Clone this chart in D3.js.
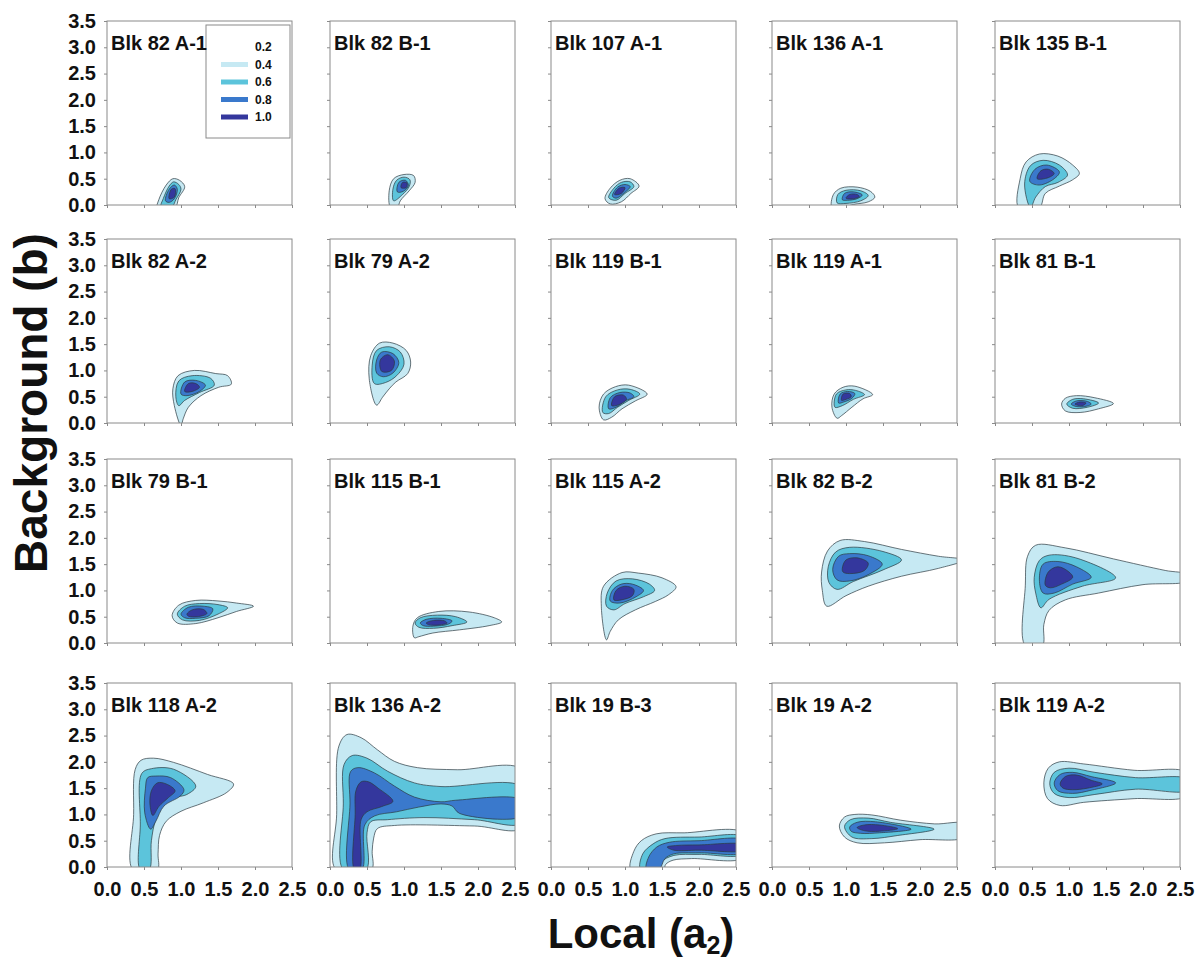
<!DOCTYPE html>
<html>
<head>
<meta charset="utf-8">
<script src="https://cdn.jsdelivr.net/npm/d3@7"></script>
<style>
  html, body { margin: 0; padding: 0; background: #fff; }
  svg { display: block; font-family: Arial, "Liberation Sans", sans-serif; }
</style>
</head>
<body>
<svg id="chart" width="1195" height="962"></svg>
<script>
// ---------------- data ----------------
const panelTitles = [
  "Blk 82 A-1", "Blk 82 B-1", "Blk 107 A-1", "Blk 136 A-1", "Blk 135 B-1",
  "Blk 82 A-2", "Blk 79 A-2", "Blk 119 B-1", "Blk 119 A-1", "Blk 81 B-1",
  "Blk 79 B-1", "Blk 115 B-1", "Blk 115 A-2", "Blk 82 B-2", "Blk 81 B-2",
  "Blk 118 A-2", "Blk 136 A-2", "Blk 19 B-3", "Blk 19 A-2", "Blk 119 A-2"
];
const contourLevels = [0.2, 0.4, 0.6, 0.8];
const legendLabels = ["0.2", "0.4", "0.6", "0.8", "1.0"];
const xTickValues = [0, 0.5, 1.0, 1.5, 2.0, 2.5];
const yTickValues = [0, 0.5, 1.0, 1.5, 2.0, 2.5, 3.0, 3.5];
const xDomain = [0, 2.5];
const yDomain = [0, 3.5];

// contour outlines: per panel, one closed outline per level,
// points are [local a2, background b]
const contourOutlines = [
  // Blk 82 A-1
  [
    [[0.68,-0.05],[0.7,0.1],[0.8,0.38],[0.89,0.5],[0.98,0.47],[1.05,0.35],[0.97,0.14],[0.92,-0.05]],
    [[0.73,-0.03],[0.76,0.12],[0.84,0.36],[0.9,0.44],[0.97,0.39],[1.0,0.3],[0.93,0.1],[0.88,-0.03]],
    [[0.79,0.08],[0.84,0.3],[0.91,0.38],[0.95,0.3],[0.91,0.12],[0.84,0.05]],
    [[0.84,0.12],[0.87,0.3],[0.92,0.31],[0.91,0.15]]
  ],
  // Blk 82 B-1
  [
    [[0.82,-0.05],[0.8,0.27],[0.86,0.5],[1.0,0.58],[1.13,0.56],[1.15,0.43],[1.07,0.27],[0.95,0.08],[0.91,-0.05]],
    [[0.86,0.08],[0.85,0.3],[0.9,0.47],[1.0,0.53],[1.08,0.48],[1.07,0.35],[0.98,0.2]],
    [[0.91,0.25],[0.93,0.43],[1.02,0.47],[1.06,0.37],[0.99,0.26]],
    [[0.96,0.33],[0.98,0.43],[1.04,0.42],[1.03,0.33]]
  ],
  // Blk 107 A-1
  [
    [[0.73,0.12],[0.8,0.32],[0.93,0.47],[1.07,0.5],[1.19,0.36],[1.08,0.22],[0.95,0.06],[0.8,0.02]],
    [[0.78,0.14],[0.85,0.32],[0.95,0.43],[1.07,0.44],[1.12,0.35],[1.0,0.22],[0.88,0.09]],
    [[0.83,0.17],[0.9,0.34],[1.0,0.39],[1.07,0.35],[0.98,0.22],[0.88,0.13]],
    [[0.86,0.2],[0.92,0.32],[1.0,0.33],[0.95,0.22]]
  ],
  // Blk 136 A-1
  [
    [[0.81,-0.05],[0.83,0.2],[0.93,0.32],[1.15,0.34],[1.33,0.26],[1.39,0.15],[1.3,0.06],[1.1,0.01],[0.95,-0.05]],
    [[0.88,0.04],[0.89,0.2],[1.0,0.28],[1.2,0.27],[1.3,0.18],[1.2,0.08],[1.0,0.03]],
    [[0.95,0.1],[0.98,0.22],[1.1,0.25],[1.22,0.19],[1.15,0.12],[1.02,0.09]],
    [[1.0,0.13],[1.05,0.2],[1.15,0.2],[1.18,0.16],[1.1,0.12]]
  ],
  // Blk 135 B-1
  [
    [[0.32,-0.05],[0.34,0.5],[0.42,0.82],[0.6,0.97],[0.85,0.93],[1.05,0.76],[1.14,0.6],[1.05,0.48],[0.87,0.36],[0.68,0.22],[0.6,-0.05]],
    [[0.48,-0.05],[0.4,0.4],[0.48,0.75],[0.65,0.85],[0.87,0.76],[0.98,0.57],[0.85,0.43],[0.68,0.35],[0.55,0.15]],
    [[0.47,0.45],[0.54,0.68],[0.7,0.76],[0.87,0.63],[0.8,0.5],[0.6,0.38]],
    [[0.57,0.5],[0.62,0.65],[0.72,0.68],[0.8,0.6],[0.72,0.52]]
  ],
  // Blk 82 A-2
  [
    [[1.0,-0.05],[0.91,0.33],[0.89,0.65],[0.96,0.9],[1.18,1.0],[1.47,0.94],[1.63,0.9],[1.68,0.74],[1.51,0.68],[1.27,0.52],[1.1,0.3],[1.03,0.08]],
    [[0.97,0.33],[0.93,0.5],[0.97,0.8],[1.15,0.9],[1.4,0.85],[1.45,0.72],[1.25,0.58],[1.05,0.43]],
    [[1.0,0.55],[1.05,0.78],[1.2,0.81],[1.33,0.72],[1.25,0.6],[1.08,0.52]],
    [[1.05,0.6],[1.1,0.75],[1.2,0.75],[1.25,0.68],[1.15,0.6]]
  ],
  // Blk 79 A-2
  [
    [[0.63,0.34],[0.53,0.84],[0.55,1.28],[0.67,1.52],[0.85,1.52],[1.03,1.38],[1.09,1.16],[1.05,0.94],[0.89,0.78],[0.8,0.65],[0.71,0.49]],
    [[0.6,0.75],[0.57,1.1],[0.63,1.38],[0.8,1.45],[0.95,1.35],[1.0,1.12],[0.9,0.9],[0.75,0.77]],
    [[0.63,0.95],[0.63,1.2],[0.7,1.35],[0.85,1.32],[0.93,1.15],[0.85,0.95],[0.72,0.88]],
    [[0.7,0.98],[0.68,1.2],[0.78,1.3],[0.87,1.18],[0.83,1.0]]
  ],
  // Blk 119 B-1
  [
    [[0.71,0.06],[0.65,0.3],[0.71,0.55],[0.87,0.69],[1.05,0.72],[1.3,0.55],[1.14,0.42],[0.96,0.27],[0.82,0.11]],
    [[0.7,0.2],[0.74,0.5],[0.9,0.63],[1.07,0.64],[1.2,0.55],[1.05,0.43],[0.9,0.3],[0.78,0.18]],
    [[0.78,0.27],[0.8,0.48],[0.93,0.58],[1.07,0.57],[1.12,0.5],[1.0,0.42],[0.88,0.3]],
    [[0.82,0.33],[0.86,0.5],[0.98,0.53],[1.02,0.45],[0.92,0.35]]
  ],
  // Blk 119 A-1
  [
    [[0.88,0.09],[0.81,0.3],[0.84,0.55],[0.96,0.68],[1.12,0.7],[1.36,0.54],[1.23,0.46],[1.08,0.3],[0.94,0.14]],
    [[0.85,0.3],[0.87,0.55],[1.0,0.63],[1.13,0.62],[1.25,0.54],[1.1,0.45],[0.95,0.33]],
    [[0.9,0.38],[0.92,0.55],[1.02,0.6],[1.12,0.56],[1.08,0.47],[0.97,0.4]],
    [[0.94,0.43],[0.96,0.55],[1.05,0.56],[1.07,0.5],[1.0,0.45]]
  ],
  // Blk 81 B-1
  [
    [[0.9,0.36],[0.95,0.47],[1.1,0.52],[1.35,0.48],[1.6,0.37],[1.4,0.27],[1.15,0.2],[0.95,0.23]],
    [[0.97,0.36],[1.05,0.45],[1.2,0.46],[1.4,0.38],[1.25,0.3],[1.05,0.28]],
    [[1.03,0.36],[1.1,0.42],[1.25,0.41],[1.3,0.36],[1.2,0.31],[1.08,0.32]],
    [[1.08,0.36],[1.15,0.4],[1.23,0.38],[1.18,0.33]]
  ],
  // Blk 79 B-1
  [
    [[0.88,0.52],[0.97,0.72],[1.2,0.81],[1.5,0.8],[1.75,0.76],[1.98,0.7],[1.75,0.6],[1.5,0.48],[1.2,0.37],[0.95,0.38]],
    [[0.95,0.55],[1.05,0.7],[1.25,0.75],[1.5,0.73],[1.63,0.67],[1.5,0.55],[1.25,0.43],[1.02,0.44]],
    [[1.0,0.55],[1.1,0.68],[1.3,0.7],[1.43,0.65],[1.38,0.52],[1.2,0.47],[1.05,0.48]],
    [[1.08,0.55],[1.15,0.63],[1.3,0.64],[1.35,0.56],[1.22,0.5],[1.1,0.51]]
  ],
  // Blk 115 B-1
  [
    [[1.14,0.1],[1.12,0.32],[1.18,0.48],[1.47,0.6],[1.88,0.59],[2.22,0.48],[2.32,0.4],[2.15,0.33],[1.75,0.25],[1.39,0.19],[1.2,0.12]],
    [[1.15,0.38],[1.22,0.48],[1.45,0.53],[1.7,0.5],[1.85,0.4],[1.65,0.33],[1.4,0.28],[1.2,0.3]],
    [[1.22,0.38],[1.3,0.45],[1.5,0.47],[1.65,0.42],[1.6,0.36],[1.4,0.32],[1.26,0.33]],
    [[1.3,0.38],[1.4,0.43],[1.55,0.42],[1.58,0.38],[1.45,0.34],[1.33,0.35]]
  ],
  // Blk 115 A-2
  [
    [[0.75,0.06],[0.68,0.7],[0.71,1.08],[0.96,1.34],[1.18,1.33],[1.5,1.24],[1.69,1.07],[1.59,0.92],[1.41,0.79],[1.14,0.63],[0.91,0.44],[0.8,0.22]],
    [[0.75,0.7],[0.76,0.95],[0.88,1.18],[1.1,1.22],[1.33,1.12],[1.4,1.0],[1.25,0.88],[1.0,0.75],[0.85,0.63]],
    [[0.8,0.8],[0.83,1.0],[0.95,1.12],[1.1,1.12],[1.25,1.0],[1.15,0.88],[0.93,0.76]],
    [[0.85,0.82],[0.88,1.0],[1.0,1.08],[1.12,1.02],[1.1,0.9],[0.95,0.82]]
  ],
  // Blk 82 B-2
  [
    [[0.74,0.7],[0.68,1.0],[0.67,1.35],[0.75,1.75],[0.92,1.95],[1.25,1.93],[1.75,1.78],[2.25,1.65],[2.6,1.58],[2.25,1.42],[1.75,1.27],[1.3,1.08],[1.0,0.9]],
    [[0.77,1.15],[0.76,1.45],[0.86,1.73],[1.05,1.82],[1.5,1.74],[1.75,1.58],[1.5,1.39],[1.1,1.17],[0.88,1.02]],
    [[0.82,1.4],[0.9,1.65],[1.05,1.7],[1.3,1.66],[1.49,1.5],[1.3,1.3],[1.05,1.18],[0.88,1.2]],
    [[0.95,1.42],[1.0,1.58],[1.15,1.62],[1.3,1.52],[1.25,1.38],[1.05,1.32],[0.96,1.35]]
  ],
  // Blk 81 B-2
  [
    [[0.41,-0.05],[0.41,1.1],[0.44,1.65],[0.55,1.86],[0.95,1.81],[1.6,1.6],[2.3,1.38],[2.6,1.3],[2.6,1.18],[2.0,1.11],[1.4,0.95],[0.95,0.82],[0.73,0.62],[0.66,0.35],[0.64,-0.05]],
    [[0.55,0.95],[0.53,1.25],[0.6,1.57],[0.73,1.67],[1.09,1.62],[1.63,1.24],[1.18,1.08],[0.73,0.83],[0.62,0.67]],
    [[0.6,1.2],[0.65,1.5],[0.85,1.55],[1.1,1.45],[1.3,1.25],[1.05,1.12],[0.8,0.95],[0.65,0.95]],
    [[0.68,1.1],[0.72,1.35],[0.85,1.45],[1.0,1.35],[1.05,1.25],[0.9,1.12],[0.75,1.05]]
  ],
  // Blk 118 A-2
  [
    [[0.35,-0.05],[0.36,1.0],[0.38,1.85],[0.46,2.03],[0.63,2.07],[0.9,1.99],[1.36,1.76],[1.71,1.58],[1.62,1.42],[1.3,1.22],[1.0,1.06],[0.8,0.87],[0.71,0.6],[0.69,0.25],[0.68,-0.05]],
    [[0.45,-0.05],[0.45,0.8],[0.47,1.78],[0.6,1.87],[0.9,1.86],[1.2,1.54],[1.08,1.38],[0.82,1.28],[0.66,0.9],[0.6,0.5],[0.57,-0.05]],
    [[0.59,0.72],[0.51,1.03],[0.52,1.5],[0.55,1.7],[0.66,1.73],[0.86,1.7],[1.04,1.47],[0.99,1.35],[0.77,1.16],[0.66,0.87]],
    [[0.62,0.98],[0.58,1.2],[0.6,1.45],[0.68,1.6],[0.8,1.58],[0.92,1.45],[0.83,1.32],[0.7,1.15]]
  ],
  // Blk 136 A-2
  [
    [[0.08,-0.05],[0.09,1.0],[0.12,2.3],[0.23,2.52],[0.42,2.46],[0.64,2.23],[0.87,2.01],[1.18,1.89],[1.72,1.85],[2.6,1.85],[2.6,0.75],[1.95,0.78],[0.87,0.79],[0.64,0.73],[0.59,0.55],[0.57,0.3],[0.56,-0.05]],
    [[0.18,-0.05],[0.18,1.2],[0.19,1.95],[0.3,2.12],[0.5,2.07],[0.78,1.82],[1.14,1.6],[1.5,1.53],[2.6,1.52],[2.6,0.84],[1.95,0.9],[1.27,0.94],[0.78,0.9],[0.55,0.86],[0.5,0.65],[0.49,-0.05]],
    [[0.26,-0.05],[0.27,1.2],[0.28,1.82],[0.38,1.89],[0.6,1.79],[0.87,1.54],[1.14,1.33],[1.5,1.24],[1.7,1.27],[2.6,1.27],[2.6,0.97],[1.75,1.02],[1.65,1.16],[1.5,1.2],[1.2,1.14],[0.9,1.05],[0.6,0.97],[0.47,0.8],[0.43,-0.05]],
    [[0.33,-0.05],[0.34,1.0],[0.35,1.45],[0.42,1.62],[0.52,1.62],[0.65,1.5],[0.85,1.25],[0.7,1.15],[0.5,1.05],[0.42,0.9],[0.4,-0.05]]
  ],
  // Blk 19 B-3
  [
    [[1.08,-0.05],[1.12,0.3],[1.22,0.5],[1.42,0.63],[1.8,0.65],[2.6,0.65],[2.6,0.18],[1.9,0.16],[1.65,0.13],[1.55,0.05],[1.52,-0.05]],
    [[1.21,-0.05],[1.24,0.25],[1.38,0.44],[1.54,0.54],[2.0,0.57],[2.6,0.57],[2.6,0.25],[2.0,0.24],[1.66,0.22],[1.49,0.1],[1.43,-0.05]],
    [[1.29,-0.05],[1.32,0.19],[1.43,0.38],[1.6,0.47],[2.0,0.5],[2.6,0.51],[2.6,0.28],[2.0,0.27],[1.66,0.25],[1.54,0.16],[1.46,-0.05]],
    [[1.57,0.38],[1.7,0.41],[2.0,0.42],[2.6,0.42],[2.6,0.32],[2.0,0.32],[1.66,0.32]]
  ],
  // Blk 19 A-2
  [
    [[0.91,0.78],[0.98,0.95],[1.12,1.0],[1.35,0.99],[1.74,0.89],[2.2,0.82],[2.6,0.82],[2.6,0.57],[2.0,0.52],[1.52,0.46],[1.15,0.46],[0.98,0.57]],
    [[0.98,0.77],[1.06,0.9],[1.3,0.93],[1.6,0.85],[2.19,0.72],[1.7,0.6],[1.35,0.54],[1.08,0.57]],
    [[1.05,0.76],[1.15,0.85],[1.4,0.86],[1.88,0.72],[1.45,0.65],[1.2,0.64],[1.07,0.68]],
    [[1.15,0.75],[1.25,0.8],[1.45,0.8],[1.7,0.73],[1.45,0.68],[1.25,0.69]]
  ],
  // Blk 119 A-2
  [
    [[0.66,1.6],[0.72,1.88],[0.87,2.0],[1.2,1.96],[1.88,1.84],[2.6,1.79],[2.6,1.36],[1.88,1.3],[1.2,1.23],[0.88,1.17],[0.71,1.3]],
    [[0.74,1.58],[0.8,1.8],[1.0,1.88],[1.35,1.8],[1.9,1.7],[2.6,1.67],[2.6,1.46],[1.9,1.48],[1.35,1.38],[1.0,1.32],[0.8,1.4]],
    [[0.8,1.6],[0.88,1.76],[1.05,1.8],[1.3,1.72],[1.63,1.6],[1.3,1.46],[1.05,1.4],[0.85,1.45]],
    [[0.88,1.58],[0.95,1.72],[1.1,1.75],[1.3,1.65],[1.45,1.58],[1.25,1.5],[1.05,1.47],[0.92,1.5]]
  ]
];

// ---------------- layout & style ----------------
const levelColors = ["#c6e9f3", "#5cc4db", "#3a79cc", "#34379d"];
const colLeft = [107, 330, 551, 772, 995];
const rowTop = [21, 239, 459, 683];
const PW = 185, PH = 184;
const frameColor = "#8a8a8a";

const svg = d3.select("#chart");
svg.append("rect").attr("width", 1195).attr("height", 962).attr("fill", "#fff");

const x = d3.scaleLinear().domain(xDomain).range([0, PW]);
const y = d3.scaleLinear().domain(yDomain).range([PH, 0]);
const line = d3.line()
  .x(d => x(d[0])).y(d => y(d[1]))
  .curve(d3.curveCatmullRomClosed.alpha(0.5));

panelTitles.forEach((title, i) => {
  const r = Math.floor(i / 5), c = i % 5;
  const g = svg.append("g").attr("transform", `translate(${colLeft[c]},${rowTop[r]})`);
  const clipId = "clip" + i;
  g.append("clipPath").attr("id", clipId)
    .append("rect").attr("x", 0).attr("y", 0).attr("width", PW).attr("height", PH);

  const cg = g.append("g").attr("clip-path", `url(#${clipId})`);
  contourOutlines[i].forEach((poly, k) => {
    cg.append("path")
      .attr("d", line(poly))
      .attr("fill", levelColors[k])
      .attr("stroke", "#2b3a40")
      .attr("stroke-width", 0.7);
  });

  // axes (ticks outward, small)
  const ya = d3.axisLeft(y).tickValues(yTickValues).tickSize(3).tickPadding(8)
    .tickFormat(c === 0 ? d3.format(".1f") : () => "");
  const xa = d3.axisBottom(x).tickValues(xTickValues).tickSize(3).tickPadding(12)
    .tickFormat(r === 3 ? d3.format(".1f") : () => "");
  const gy = g.append("g").call(ya);
  const gx = g.append("g").attr("transform", `translate(0,${PH})`).call(xa);
  [gx, gy].forEach(ax => {
    ax.select(".domain").remove();
    ax.selectAll("line").attr("stroke", frameColor);
    ax.selectAll("text").attr("fill", "#111").attr("font-size", 20).attr("font-weight", "bold")
      .attr("font-family", "Arial, 'Liberation Sans', sans-serif");
  });

  g.append("rect").attr("x", 0).attr("y", 0).attr("width", PW).attr("height", PH)
    .attr("fill", "none").attr("stroke", frameColor).attr("stroke-width", 1);

  // legend inside first panel
  if (i === 0) {
    const lg = g.append("g").attr("transform", "translate(99,4)");
    lg.append("rect").attr("width", 84).attr("height", 113)
      .attr("fill", "#fff").attr("stroke", frameColor).attr("stroke-width", 1);
    legendLabels.forEach((lab, k) => {
      const yy = 26 + k * 17.5;
      if (k > 0) {
        lg.append("line").attr("x1", 15).attr("x2", 42).attr("y1", yy - 4).attr("y2", yy - 4)
          .attr("stroke", levelColors[k - 1]).attr("stroke-width", 5);
      }
      lg.append("text").attr("x", 49).attr("y", yy).text(lab)
        .attr("font-size", 12).attr("font-weight", "bold").attr("fill", "#111");
    });
  }

  g.append("text").attr("x", 4).attr("y", 29).text(title)
    .attr("font-size", 20).attr("font-weight", "bold").attr("fill", "#111");
});

// axis titles
svg.append("text")
  .attr("transform", "translate(47,403) rotate(-90)")
  .attr("text-anchor", "middle")
  .attr("font-size", 46).attr("font-weight", "bold").attr("fill", "#111")
  .text("Background (b)");

const xt = svg.append("text")
  .attr("x", 641).attr("y", 948)
  .attr("text-anchor", "middle")
  .attr("font-size", 42).attr("font-weight", "bold").attr("fill", "#111");
xt.append("tspan").text("Local (a");
xt.append("tspan").attr("font-size", 25).attr("dy", 6).text("2");
xt.append("tspan").attr("dy", -6).text(")");
</script>
</body>
</html>
